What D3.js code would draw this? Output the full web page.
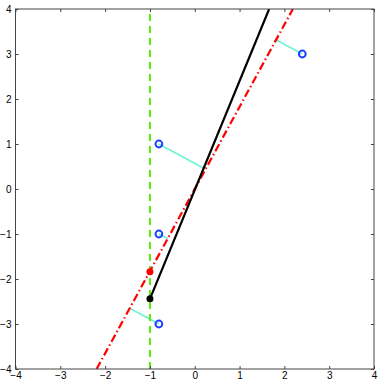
<!DOCTYPE html>
<html><head><meta charset="utf-8">
<script src="https://cdn.jsdelivr.net/npm/d3@7"></script>
<style>body{margin:0;background:#fff}svg{display:block}</style>
</head><body>
<script>
const ticks = [-4,-3,-2,-1,0,1,2,3,4];
const bluePoints = [[2.4,3],[-0.8,1],[-0.8,-1],[-0.8,-3]];
const projPoints = [[1.82,3.31],[0.2,0.46],[-0.6,-1.1],[-1.45,-2.65]];
const redLine = [[-2.19,-4],[2.19,4]];
const blackLine = [[-1,-2.44],[1.66,4]];
const greenLine = [[-1,-4],[-1,4]];
const redPoint = [-1,-1.84];
const blackPoint = [-1,-2.44];

const W=382,H=382;
const L=15.5,R=374,T=9,B=369;
const x=d3.scaleLinear().domain([-4,4]).range([L,R]);
const y=d3.scaleLinear().domain([-4,4]).range([B,T]);
const svg=d3.select("body").append("svg").attr("width",W).attr("height",H);
svg.append("defs").append("clipPath").attr("id","c").append("rect")
 .attr("x",L).attr("y",T).attr("width",R-L).attr("height",B-T);
const g=svg.append("g").attr("clip-path","url(#c)");
const line=d3.line().x(d=>x(d[0])).y(d=>y(d[1]));

bluePoints.forEach((p,i)=>{
  g.append("path").attr("d",line([p,projPoints[i]])).attr("stroke","#6ff2d6").attr("stroke-width",1.6).attr("fill","none");
});
g.append("path").attr("d",line(greenLine)).attr("stroke","#55ee00").attr("stroke-width",2).attr("stroke-dasharray","7,5").attr("fill","none");
g.append("path").attr("d",line(redLine)).attr("stroke","#ff0000").attr("stroke-width",2.2).attr("stroke-dasharray","8,3,1.5,3").attr("fill","none");
g.append("path").attr("d",line(blackLine)).attr("stroke","#000").attr("stroke-width",2.2).attr("fill","none");

g.selectAll(".b").data(bluePoints).enter().append("circle")
 .attr("cx",d=>x(d[0])).attr("cy",d=>y(d[1])).attr("r",3.4)
 .attr("fill","none").attr("stroke","#1f3fff").attr("stroke-width",2);
g.append("circle").attr("cx",x(redPoint[0])).attr("cy",y(redPoint[1])).attr("r",3.5).attr("fill","#ff0000");
g.append("circle").attr("cx",x(blackPoint[0])).attr("cy",y(blackPoint[1])).attr("r",3.5).attr("fill","#000");

svg.append("rect").attr("x",L).attr("y",T).attr("width",R-L).attr("height",B-T)
 .attr("fill","none").attr("stroke","#444").attr("stroke-width",1);
const fmt=d=>d<0?"\u2212"+(-d):d;
const xb=svg.append("g").attr("transform",`translate(0,${B})`)
 .call(d3.axisBottom(x).tickValues(ticks).tickSize(-3).tickPadding(3).tickFormat(fmt));
const xt=svg.append("g").attr("transform",`translate(0,${T})`)
 .call(d3.axisTop(x).tickValues(ticks).tickSize(-3).tickFormat(""));
const yl=svg.append("g").attr("transform",`translate(${L},0)`)
 .call(d3.axisLeft(y).tickValues(ticks).tickSize(-3).tickPadding(4).tickFormat(fmt));
const yr=svg.append("g").attr("transform",`translate(${R},0)`)
 .call(d3.axisRight(y).tickValues(ticks).tickSize(-3).tickFormat(""));
[xb,xt,yl,yr].forEach(a=>{
  a.select(".domain").remove();
  a.selectAll("line").attr("stroke","#444");
  a.selectAll("text").attr("font-family","Liberation Sans, Arial, sans-serif").attr("font-size",10).attr("fill","#000");
});
</script>
</body></html>
